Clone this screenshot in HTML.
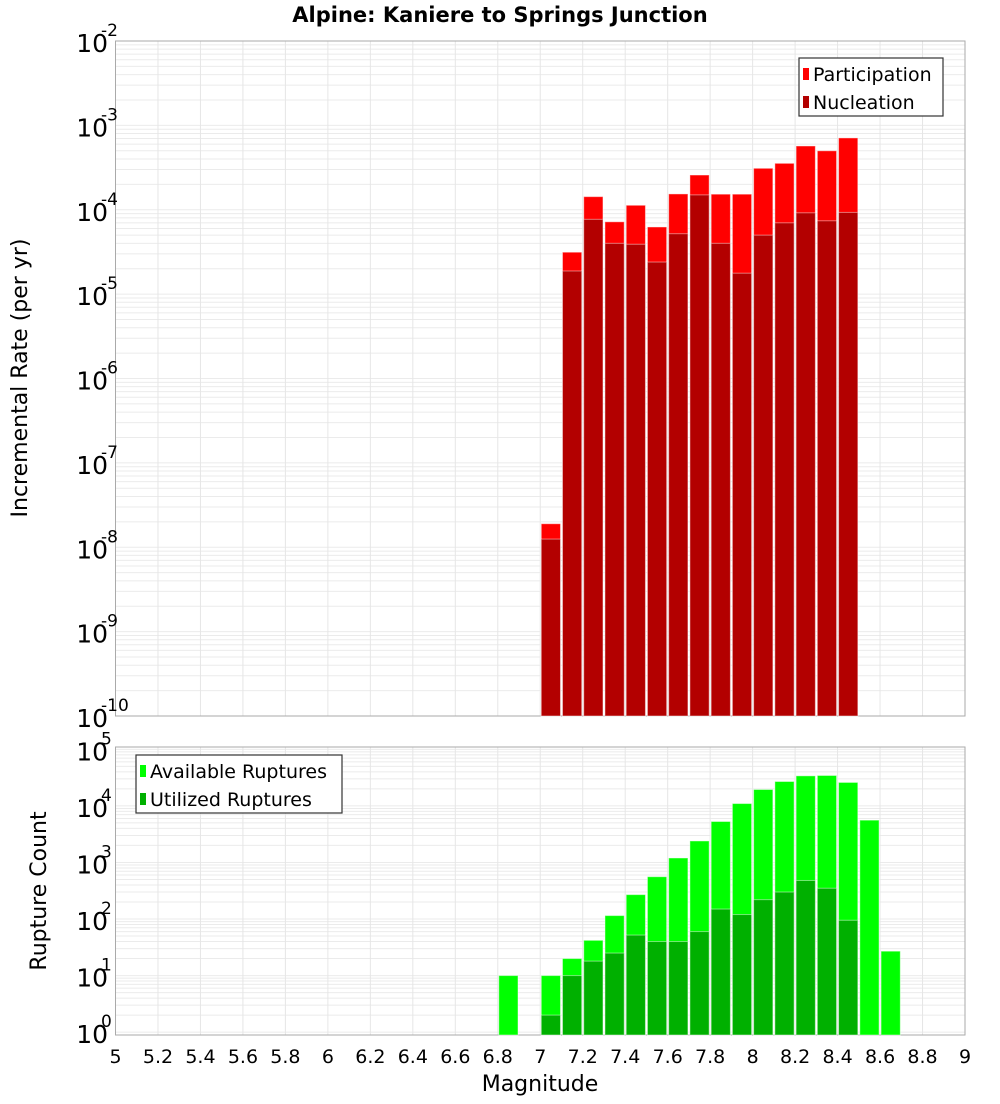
<!DOCTYPE html>
<html><head><meta charset="utf-8"><style>
body{margin:0;background:#fff;font-family:"DejaVu Sans","Liberation Sans",sans-serif}
svg text{font-family:"DejaVu Sans","Liberation Sans",sans-serif}
</style></head><body>
<svg id="c" width="1000" height="1100" xmlns="http://www.w3.org/2000/svg"></svg>
<script>
const mags = [7.0,7.1,7.2,7.3,7.4,7.5,7.6,7.7,7.8,7.9,8.0,8.1,8.2,8.3,8.4];
const participation = [1.9e-8,3.14e-5,1.43e-4,7.2e-5,1.13e-4,6.25e-5,1.54e-4,2.58e-4,1.53e-4,1.53e-4,3.1e-4,3.55e-4,5.7e-4,5.0e-4,7.1e-4];
const nucleation = [1.25e-8,1.88e-5,7.7e-5,4.0e-5,3.9e-5,2.4e-5,5.2e-5,1.5e-4,4.0e-5,1.77e-5,5.0e-5,7.0e-5,9.2e-5,7.4e-5,9.3e-5];
const cntMags = [6.8,7.0,7.1,7.2,7.3,7.4,7.5,7.6,7.7,7.8,7.9,8.0,8.1,8.2,8.3,8.4,8.5,8.6];
const available = [10,10,20,42,115,270,560,1200,2400,5300,11000,19500,27000,34000,34500,26000,5600,27];
const utilized = [0,2,10,18,25,52,40,40,60,150,120,220,300,480,350,95,0,0];
const xTicks = ["5","5.2","5.4","5.6","5.8","6","6.2","6.4","6.6","6.8","7","7.2","7.4","7.6","7.8","8","8.2","8.4","8.6","8.8","9"];

const NS="http://www.w3.org/2000/svg", svg=document.getElementById('c');
function el(t,a,p){const e=document.createElementNS(NS,t);for(const k in a)e.setAttribute(k,a[k]);(p||svg).appendChild(e);return e;}
const X0=115.5,X1=965;
const xs=m=>X0+(m-5)/4*(X1-X0);
const T={top:41,bot:716,lmin:-10,lmax:-2};
const B={top:747,bot:1035,lmin:Math.log10(0.89),lmax:Math.log10(1.1e5)};
function ys(P,v){return P.bot-(Math.log10(v)-P.lmin)/(P.lmax-P.lmin)*(P.bot-P.top);}

function panel(P,name,d0,d1){
  const g=el('g',{});  
  for(let d=d0;d<=d1;d++){for(let k=1;k<10;k++){const v=k*Math.pow(10,d);const y=ys(P,v);if(y<P.top-0.5||y>P.bot+0.5)continue;
    el('line',{x1:X0,x2:X1,y1:y,y2:y,stroke:'#ebebeb','stroke-width':1},g);}}
  for(let i=0;i<xTicks.length;i++){const x=xs(5+i*0.2);el('line',{x1:x,x2:x,y1:P.top,y2:P.bot,stroke:'#e6e6e6','stroke-width':1},g);}
  const r=el('rect',{x:X0,y:P.top,width:X1-X0,height:P.bot-P.top,fill:'none',stroke:'#aaa','stroke-width':1});
  
  for(let d=d0;d<=d1;d++){const y=ys(P,Math.pow(10,d));
    const t=el('text',{x:108,y:y+11,'text-anchor':'end','font-size':25,fill:'#000'});
    
    t.textContent='10';
    const s=el('text',{x:101,y:y-5,'font-size':17,fill:'#000'});
    
    s.textContent=String(d);}
}
panel(T,'rate',-10,-2);
panel(B,'count',0,5);

function bar(P,m,v,fill,name){if(!(v>0))return;const x=xs(m)+1,w=xs(m+0.1)-xs(m)-2;const y=ys(P,v);
  const r=el('rect',{x:x,y:y,width:w,height:P.bot-y,fill:fill,stroke:'rgba(255,255,255,0.45)','stroke-width':1});
  }
mags.forEach((m,i)=>bar(T,m,participation[i],'#ff0000','participation-bar'));
mags.forEach((m,i)=>bar(T,m,nucleation[i],'#b30000','nucleation-bar'));
cntMags.forEach((m,i)=>bar(B,m,available[i],'#00ff00','available-bar'));
cntMags.forEach((m,i)=>bar(B,m,utilized[i],'#00b000','utilized-bar'));

xTicks.forEach((l,i)=>{const t=el('text',{x:xs(5+i*0.2),y:1063,'text-anchor':'middle','font-size':19,fill:'#000'});
  t.textContent=l;});

function txt(a,s,name){const t=el('text',a);t.textContent=s;return t;}
txt({x:500,y:22,'text-anchor':'middle','font-size':21,'font-weight':'bold'},'Alpine: Kaniere to Springs Junction','chart-title');
txt({x:540,y:1091,'text-anchor':'middle','font-size':22},'Magnitude','x-axis-title');
txt({x:27,y:378,'text-anchor':'middle','font-size':22,transform:'rotate(-90 27 378)'},'Incremental Rate (per yr)','rate-y-axis-title');
txt({x:46,y:891,'text-anchor':'middle','font-size':22,transform:'rotate(-90 46 891)'},'Rupture Count','count-y-axis-title');

function legend(x,y,w,items,name){const g=el('g',{});
  el('rect',{x:x,y:y,width:w,height:58,fill:'#fff',stroke:'#333','stroke-width':1.2},g);
  items.forEach((it,i)=>{const yy=y+16+i*28;
    const s=el('rect',{x:x+4,y:yy-6,width:6,height:12,fill:it[1]},g);
    const t=el('text',{x:x+14,y:yy+7,'font-size':19},g);t.textContent=it[0];});}
legend(799,58,144,[['Participation','#ff0000'],['Nucleation','#b30000']],'rate-legend');
legend(136,755,206,[['Available Ruptures','#00ff00'],['Utilized Ruptures','#00b000']],'count-legend');
</script>
</body></html>
